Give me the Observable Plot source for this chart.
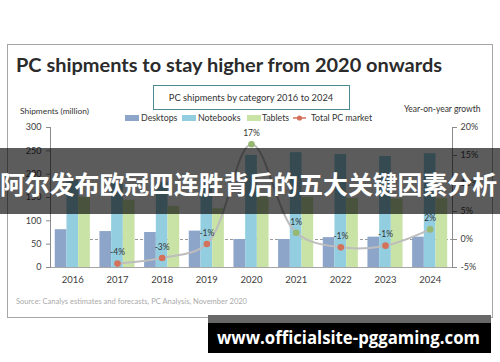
<!DOCTYPE html>
<html><head><meta charset="utf-8">
<script src="https://cdn.jsdelivr.net/npm/d3@7"></script>
<script src="https://cdn.jsdelivr.net/npm/@observablehq/plot@0.6"></script>
<style>
body{margin:0;background:#fff}
#wrap{position:relative;width:500px;height:362px;overflow:hidden;background:#fff}
#wrap svg{position:absolute;left:0;top:0}
</style>
</head><body><div id="wrap"></div>
<script>
const years = ["2016","2017","2018","2019","2020","2021","2022","2023","2024"];
const desktops = [81, 77, 75, 78, 60, 60, 64, 65, 65];
const notebooks = [187, 180, 183, 181, 240, 246, 242, 238, 244];
const tablets = [150, 144, 131, 126, 150, 150, 148, 147, 148];
const growthYears = ["2017","2018","2019","2020","2021","2022","2023","2024"];
const growth = [-4.3, -3.3, -0.8, 17.0, 1.2, -1.4, -1.1, 1.8];
const growthLabels = ["-4%","-3%","-1%","17%","1%","-1%","-1%","2%"];
const leftTicks = [0, 50, 100, 150, 200, 250, 300];
const rightTicks = [-5, 0, 5, 10, 15, 20];
const seriesNames = ["Desktops","Notebooks","Tablets","Total PC market"];
const seriesColors = ["#8da5c8","#93cee0","#c9e3a7","#d4715a"];

const title = "PC shipments to stay higher from 2020 onwards";
const subtitle = "PC shipments by category 2016 to 2024";
const leftTitle = "Shipments (million)";
const rightTitle = "Year-on-year growth";
const source = "Source: Canalys estimates and forecasts, PC Analysis, November 2020";
const banner = "阿尔发布欧冠四连胜背后的五大关键因素分析";
const watermark = "www.officialsite-pggaming.com";

// right axis (growth %) mapped onto left scale: -5% -> 0, 20% -> 300
const toLeft = g => (g + 5) * 12;

const bars = years.map((y, i) => ({year: y, desktops: desktops[i], notebooks: notebooks[i], tablets: tablets[i]}));
const gdata = growthYears.map((y, i) => ({year: y, g: growth[i], label: growthLabels[i]}));

const chart = Plot.plot({
  width: 500, height: 362,
  marginTop: 127, marginBottom: 95, marginLeft: 50, marginRight: 48,
  style: {fontFamily: "Lato", fontSize: "9px", background: "transparent", color: "#404040"},
  x: {domain: years, paddingInner: 0.738, paddingOuter: 0.369, round: false, axis: null},
  y: {domain: [0, 300], axis: null},
  color: {type: "identity"},
  marks: [
    Plot.ruleY([toLeft(0)], {stroke: "#9a9a9a", strokeDasharray: "3,2", insetLeft: 20}),
    Plot.barY(bars, {x: "year", y: "desktops", fill: seriesColors[0], dx: -11.7}),
    Plot.barY(bars, {x: "year", y: "notebooks", fill: seriesColors[1]}),
    Plot.barY(bars, {x: "year", y: "tablets", fill: seriesColors[2], dx: 11.7}),
    Plot.ruleY([0], {stroke: "#a6a6a6"}),
    Plot.frame({anchor: "left", stroke: "#8c8c8c"}),
    Plot.frame({anchor: "right", stroke: "#8c8c8c"}),
    Plot.axisX({tickSize: 0, tickPadding: 9, fontSize: 9.5, label: null}),
    Plot.axisY({anchor: "left", ticks: leftTicks, tickSize: 4, tickPadding: 5, label: null, stroke: "#8c8c8c"}),
    Plot.axisY({anchor: "right", ticks: rightTicks.map(toLeft), tickFormat: d => Math.round(d / 12 - 5) + "%", tickSize: 4, tickPadding: 4, label: null, stroke: "#8c8c8c"}),
    Plot.line(gdata, {x: "year", y: d => toLeft(d.g), curve: "catmull-rom", stroke: "#bdbdbd", strokeWidth: 2}),
    Plot.dot(gdata, {x: "year", y: d => toLeft(d.g), r: 3.3, fill: d => d.g < 0 ? seriesColors[3] : "#97b870"}),
    Plot.text(gdata, {x: "year", y: d => toLeft(d.g), text: "label", dy: -11, fontSize: 8.5, fill: "#333"})
  ]
});
document.getElementById("wrap").appendChild(chart);

const svg = d3.select("#wrap").append("svg").attr("width", 500).attr("height", 362)
  .style("font-family", "Lato");

svg.append("rect").attr("x", 7.5).attr("y", 44.5).attr("width", 485).attr("height", 273)
  .attr("fill", "none").attr("stroke", "#a6a6a6");
svg.append("text").attr("x", 16).attr("y", 72).attr("font-size", 19.5).attr("font-weight", 700)
  .attr("fill", "#2b2b2b").attr("textLength", 426).attr("lengthAdjust", "spacingAndGlyphs").text(title);
svg.append("rect").attr("x", 153.5).attr("y", 85.5).attr("width", 196).attr("height", 24)
  .attr("fill", "none").attr("stroke", "#4a8b91");
svg.append("text").attr("x", 251).attr("y", 100.5).attr("text-anchor", "middle").attr("font-size", 9.3)
  .attr("fill", "#333").text(subtitle);
svg.append("text").attr("x", 20).attr("y", 114).attr("font-size", 8.4).attr("fill", "#333").text(leftTitle);
svg.append("text").attr("x", 404).attr("y", 112).attr("font-size", 8.5).attr("fill", "#333").text(rightTitle);

// legend
const legX = [125, 182, 247];
const legTextX = [141, 198, 262];
for (let i = 0; i < 3; i++) {
  svg.append("rect").attr("x", legX[i]).attr("y", 115).attr("width", 14).attr("height", 6).attr("fill", seriesColors[i]);
  svg.append("text").attr("x", legTextX[i]).attr("y", 121).attr("font-size", 8.8).attr("fill", "#333").text(seriesNames[i]);
}
svg.append("line").attr("x1", 293).attr("x2", 306).attr("y1", 118).attr("y2", 118).attr("stroke", seriesColors[3]).attr("stroke-width", 1.5);
svg.append("circle").attr("cx", 299.5).attr("cy", 118).attr("r", 2.6).attr("fill", seriesColors[3]);
svg.append("text").attr("x", 311).attr("y", 121).attr("font-size", 8.8).attr("fill", "#333").text(seriesNames[3]);

svg.append("text").attr("x", 16).attr("y", 304).attr("font-size", 7.5).attr("fill", "#aaaaaa")
  .attr("textLength", 231).attr("lengthAdjust", "spacingAndGlyphs").text(source);

// overlay banner
svg.append("rect").attr("x", 0).attr("y", 148).attr("width", 500).attr("height", 66).attr("fill", "rgba(0,0,0,0.64)");
svg.append("text").attr("x", 0).attr("y", 193.5).attr("font-size", 25).attr("font-weight", 700)
  .attr("font-family", "Noto Sans CJK SC").attr("fill", "#fff")
  .attr("textLength", 497).attr("lengthAdjust", "spacingAndGlyphs").text(banner);

// watermark
svg.append("rect").attr("x", 208).attr("y", 315).attr("width", 283).attr("height", 8).attr("fill", "#686868");
svg.append("rect").attr("x", 208).attr("y", 323).attr("width", 283).attr("height", 30).attr("fill", "#000");
svg.append("text").attr("x", 217).attr("y", 344).attr("font-size", 18).attr("font-weight", 700)
  .attr("font-family", "Open Sans").attr("fill", "#fff")
  .attr("textLength", 263).attr("lengthAdjust", "spacingAndGlyphs").text(watermark);
</script>
</body></html>
